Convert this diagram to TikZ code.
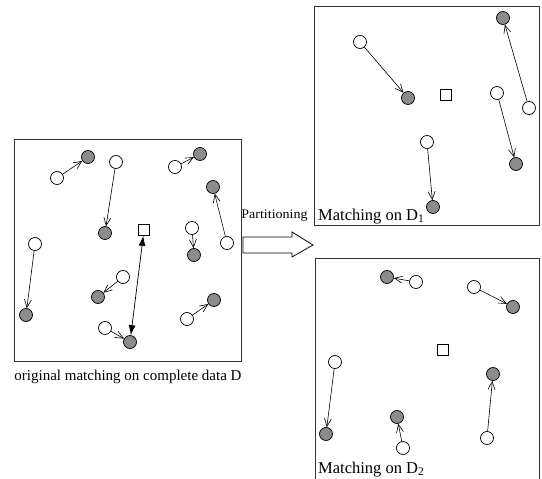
\documentclass[tikz,border=0pt]{standalone}
\usepackage{fontspec}
\setmainfont{Liberation Serif}
\usetikzlibrary{arrows.meta}

\begin{document}
\begin{tikzpicture}[x=1pt,y=-1pt,
  open/.style={circle,draw=black,fill=white,line width=0.7pt,minimum size=13pt,inner sep=0pt},
  filled/.style={open,fill=black!45},
  sq/.style={rectangle,draw=black,fill=white,line width=0.7pt,minimum size=11pt,inner sep=0pt},
  link/.style={line width=0.6pt,-{Straight Barb[length=8pt,width=7pt]}},
  frame/.style={draw=black!80,line width=0.9pt},
  lbl/.style={inner sep=0pt,anchor=base}
]
\useasboundingbox (0,0) rectangle (542,479);

% ---------- complete data D ----------
\draw[frame] (14,139) rectangle (241,361);
\node[sq] (c) at (144,230) {};
\node[open] (a1) at (57,178) {};   \node[filled] (b1) at (88,157) {};
\node[open] (a2) at (116,162) {};  \node[filled] (b2) at (105,233) {};
\node[open] (a3) at (175,167) {};  \node[filled] (b3) at (200,154) {};
\node[open] (a4) at (227,243) {};  \node[filled] (b4) at (213,187) {};
\node[open] (a5) at (192,228) {};  \node[filled] (b5) at (194,255) {};
\node[open] (a6) at (35,244) {};   \node[filled] (b6) at (26,315) {};
\node[open] (a7) at (123,277) {};  \node[filled] (b7) at (98,297) {};
\node[open] (a8) at (105,328) {};  \node[filled] (b8) at (130,342) {};
\node[open] (a9) at (187,319) {};  \node[filled] (b9) at (214,300) {};
\foreach \i in {1,...,9} \draw[link] (a\i) -- (b\i);
\draw[line width=0.7pt,{Latex[length=10pt,width=7pt]}-{Latex[length=10pt,width=7pt]}] (c) -- (b8);
\node[lbl] (capD) at (128,380) {\fontsize{15pt}{17pt}\selectfont original matching on complete data D};

% ---------- partitioning arrow ----------
\draw[line width=0.8pt,fill=white] (243,237) -- (292,237) -- (292,232) -- (313,245)
  -- (292,257) -- (292,253) -- (243,253) -- cycle;
\node[lbl] (part) at (274.5,218) {\scalebox{1.08}[1]{\fontsize{13pt}{15pt}\selectfont Partitioning}};

% ---------- partition D1 ----------
\draw[frame] (314,6) rectangle (539,225);
\node[sq] (c1) at (446,95) {};
\node[open] (p1) at (360,42) {};   \node[filled] (q1) at (408,98) {};
\node[open] (p2) at (529,108) {};  \node[filled] (q2) at (503,18) {};
\node[open] (p3) at (497,93) {};   \node[filled] (q3) at (516,164) {};
\node[open] (p4) at (427,142) {};  \node[filled] (q4) at (433,207) {};
\foreach \i in {1,...,4} \draw[link] (p\i) -- (q\i);
\node[lbl,anchor=base west] (capD1) at (318,220) {\fontsize{16.5pt}{18pt}\selectfont Matching on D\textsubscript{1}};

% ---------- partition D2 ----------
\draw[frame] (315,481) -- (315,258) -- (539,258) -- (539,481);
\node[sq] (c2) at (443,350) {};
\node[open] (r1) at (416,282) {};  \node[filled] (s1) at (387,277) {};
\node[open] (r2) at (474,287) {};  \node[filled] (s2) at (513,307) {};
\node[open] (r3) at (335,362) {};  \node[filled] (s3) at (326,434) {};
\node[open] (r4) at (403,448) {};  \node[filled] (s4) at (397,417) {};
\node[open] (r5) at (487,438) {};  \node[filled] (s5) at (493,374) {};
\foreach \i in {1,...,5} \draw[link] (r\i) -- (s\i);
\node[lbl,anchor=base west] (capD2) at (318,473) {\fontsize{16.5pt}{18pt}\selectfont Matching on D\textsubscript{2}};
\end{tikzpicture}
\end{document}
